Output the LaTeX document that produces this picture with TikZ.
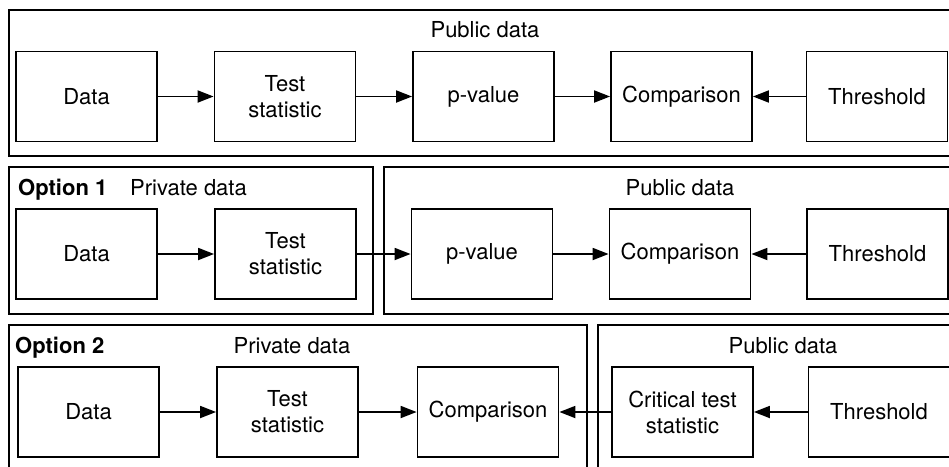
\documentclass[tikz,border=0pt]{standalone}
\usepackage{fontspec}
\setmainfont{TeX Gyre Heros}
\usetikzlibrary{arrows.meta}

\tikzset{
  stepbox/.style={draw, line width=1.8pt, minimum width=141pt, minimum height=90pt,
    align=center, inner sep=2pt, font=\fontsize{22}{26}\selectfont},
  frame/.style={draw, line width=2pt},
  flow/.style={line width=1.8pt, -{Triangle[length=16pt,width=12pt]}},
  title/.style={anchor=base, inner sep=0pt, font=\fontsize{22}{26}\selectfont},
  optlabel/.style={anchor=base west, inner sep=0pt, font=\fontsize{22}{26}\selectfont\bfseries}
}

\begin{document}
\begin{tikzpicture}[x=1pt, y=-1pt]
  \clip (0,0) rectangle (949,466);
  \fill[white] (0,0) rectangle (949,466);

  % ---- Row 1: everything public ----
  \draw[frame] (9,10) rectangle (960,156);
  \node[title] (t1) at (485,37) {Public data};
  \node[stepbox] (a1) at (86.5,96.5) {Data};
  \node[stepbox] (b1) at (285,96.5) {Test\\statistic};
  \node[stepbox] (c1) at (483.5,96.5) {p-value};
  \node[stepbox] (d1) at (681.5,96.5) {Comparison};
  \node[stepbox] (e1) at (877,96.5) {Threshold};
  \draw[flow] (a1) -- (b1);
  \draw[flow] (b1) -- (c1);
  \draw[flow] (c1) -- (d1);
  \draw[flow] (e1) -- (d1);

  % ---- Row 2: option 1 ----
  \draw[frame] (9,167) rectangle (373,314);
  \draw[frame] (384,167) rectangle (960,314);
  \node[optlabel] (o1) at (18,195) {Option 1};
  \node[title, anchor=base west] (p2) at (130,195) {Private data};
  \node[title] (t2) at (680,195) {Public data};
  \node[stepbox] (a2) at (86.5,254) {Data};
  \node[stepbox] (b2) at (285.5,254) {Test\\statistic};
  \node[stepbox] (c2) at (482,254) {p-value};
  \node[stepbox] (d2) at (680,254) {Comparison};
  \node[stepbox] (e2) at (877.5,254) {Threshold};
  \draw[flow] (a2) -- (b2);
  \draw[flow] (b2) -- (c2);
  \draw[flow] (c2) -- (d2);
  \draw[flow] (e2) -- (d2);

  % ---- Row 3: option 2 ----
  \draw[frame] (9,325) rectangle (587,480);
  \draw[frame] (598,325) rectangle (960,480);
  \node[optlabel] (o3) at (15,353) {Option 2};
  \node[title] (p3) at (292,353) {Private data};
  \node[title] (t3) at (783,353) {Public data};
  \node[stepbox] (a3) at (88.5,412) {Data};
  \node[stepbox] (b3) at (287.5,412) {Test\\statistic};
  \node[stepbox] (c3) at (488,412) {Comparison};
  \node[stepbox] (d3) at (682.5,412) {Critical test\\statistic};
  \node[stepbox] (e3) at (879,412) {Threshold};
  \draw[flow] (a3) -- (b3);
  \draw[flow] (b3) -- (c3);
  \draw[flow] (d3) -- (c3);
  \draw[flow] (e3) -- (d3);
\end{tikzpicture}
\end{document}
